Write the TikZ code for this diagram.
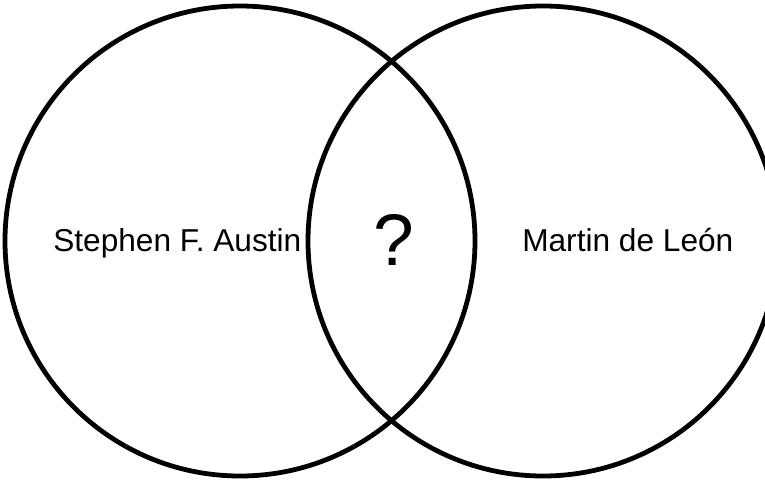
\documentclass[tikz,border=0pt]{standalone}
\usepackage{fontspec}
\setmainfont{Liberation Sans}
\usepackage{tikz}
\usetikzlibrary{positioning}

\tikzset{
  ring/.style={draw=black, line width=3.4pt},
  name label/.style={font=\fontsize{22.5}{27}\selectfont, inner sep=0pt, anchor=base west},
}

\begin{document}
\begin{tikzpicture}[x=0.025cm, y=-0.025cm]
  \useasboundingbox (0,0) rectangle (765,481);
  \clip (0,0) rectangle (765,481);
  \fill[white] (0,0) rectangle (765,481);

  % the two sets
  \coordinate (leftc) at (240,241);
  \coordinate (rightc) at (543,241);
  \draw[ring] (leftc) circle [radius=235];
  \draw[ring] (rightc) circle [radius=235];

  \node[name label] (austin) at (53,251) {Stephen F. Austin};
  \node[name label] (leon) at (522,251) {Martin de León};
  \node[font=\fontsize{52}{62}\selectfont, inner sep=0pt, anchor=base] (common) at (393.5,265) {?};
\end{tikzpicture}
\end{document}
